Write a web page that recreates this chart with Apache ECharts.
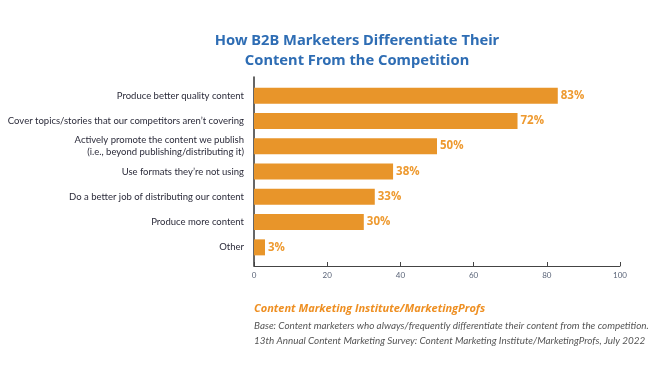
<!DOCTYPE html>
<html><head><meta charset="utf-8">
<script src="https://cdn.jsdelivr.net/npm/echarts@6/dist/echarts.min.js"></script>
<style>html,body{margin:0;padding:0;background:#fff}#c{width:650px;height:368px}</style>
</head><body><div id="c"></div>
<script>
const categories = [
  "Produce better quality content",
  "Cover topics/stories that our competitors aren\u2019t covering",
  "Actively promote the content we publish\n(i.e., beyond publishing/distributing it)",
  "Use formats they\u2019re not using",
  "Do a better job of distributing our content",
  "Produce more content",
  "Other"
];
const values = [83, 72, 50, 38, 33, 30, 3];
const xTicks = [0, 20, 40, 60, 80, 100];
const titleText = "How B2B Marketers Differentiate Their\nContent From the Competition";
const sourceText = "Content Marketing Institute/MarketingProfs";
const noteLines = [
  "Base: Content marketers who always/frequently differentiate their content from the competition.",
  "13th Annual Content Marketing Survey: Content Marketing Institute/MarketingProfs, July 2022"
];

const chart = echarts.init(document.getElementById('c'), null, {renderer: 'canvas'});
chart.setOption({
  animation: false,
  backgroundColor: '#fff',
  title: {
    text: titleText, left: 352, top: 26, textAlign: 'center',
    textStyle: {color: '#2E6DB4', fontFamily: 'Noto Sans', fontWeight: 'bold', fontSize: 14.7, lineHeight: 20}
  },
  graphic: [
    {type: 'text', left: 254, top: 303, style: {text: sourceText, fill: '#EE8F22', font: 'italic bold 11px "Open Sans"'}},
    {type: 'text', left: 254, top: 321, style: {text: noteLines[0], fill: '#555', font: 'italic 9.9px Lato'}},
    {type: 'text', left: 254, top: 336, style: {text: noteLines[1], fill: '#555', font: 'italic 9.9px Lato'}}
  ],
  grid: [
    {left: 254, right: 30, top: 77, bottom: 102, containLabel: false},
    {left: 254, right: 30, top: 83, height: 177, containLabel: false}
  ],
  xAxis: [
    {type: 'value', gridIndex: 0, min: xTicks[0], max: xTicks[xTicks.length - 1], interval: 20,
     axisLine: {show: true, lineStyle: {color: '#444', width: 1}},
     axisTick: {show: true, inside: true, length: 4, lineStyle: {color: '#444'}},
     axisLabel: {color: '#5a6478', fontSize: 8, fontFamily: 'Lato', margin: 5},
     splitLine: {show: false}},
    {type: 'value', gridIndex: 1, min: 0, max: 100, show: false}
  ],
  yAxis: [
    {type: 'value', gridIndex: 0, min: 0, max: 1,
     axisLine: {show: true, lineStyle: {color: '#333', width: 1.5}},
     axisTick: {show: false}, axisLabel: {show: false}, splitLine: {show: false}},
    {type: 'category', gridIndex: 1, data: categories, inverse: true,
     axisLine: {show: false}, axisTick: {show: false},
     axisLabel: {color: '#2b2b3a', fontSize: 9.5, fontFamily: 'Lato', margin: 10, align: 'right', lineHeight: 12}}
  ],
  series: [{
    type: 'bar', xAxisIndex: 1, yAxisIndex: 1, data: values, barWidth: 16,
    itemStyle: {color: '#E8952A'},
    label: {show: true, position: 'right', distance: 3, formatter: '{c}%',
            color: '#EE9A30', fontWeight: 'bold', fontSize: 11.5, fontFamily: 'Open Sans'}
  }]
});
</script></body></html>
